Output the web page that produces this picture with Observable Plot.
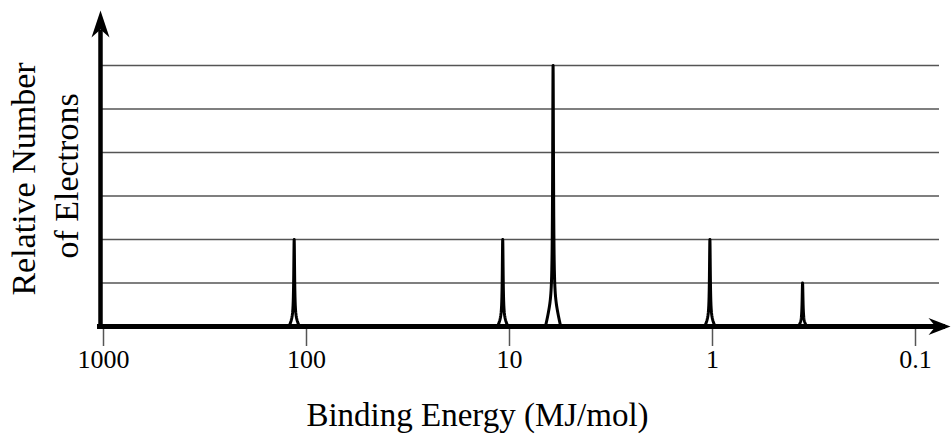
<!DOCTYPE html>
<html>
<head>
<meta charset="utf-8">
<script src="https://cdn.jsdelivr.net/npm/d3@7"></script>
<script src="https://cdn.jsdelivr.net/npm/@observablehq/plot@0.6"></script>
<style>
  html, body { margin: 0; padding: 0; background: #fff; }
</style>
</head>
<body>
<div id="chart"></div>
<script>
// Data
const peakEnergies = [115, 10.8, 6.1, 1.03, 0.36];   // MJ/mol
const peakHeights  = [2, 2, 6, 2, 1];                 // relative number of electrons
const tickValues   = [1000, 100, 10, 1, 0.1];
const tickLabels   = ["1000", "100", "10", "1", "0.1"];
const gridValues   = [1, 2, 3, 4, 5, 6];
const xLabel = "Binding Energy (MJ/mol)";
const yLabelLines = ["Relative Number", "of Electrons"];

// Peak glyph: a narrow spike with a flared open foot drawn around each peak (shape only)
const pxPerDecade = 203.08;
const gammaPx = 0.5;
const profile = [];
peakEnergies.forEach((e, k) => {
  const h = peakHeights[k];
  const foot = 3.5 + 0.65 * h;
  const N = 50;
  for (let i = -N; i <= N; i++) {
    const t = i / N;
    const dpx = Math.sign(t) * 14 * t * t;
    const lor = gammaPx * gammaPx / (gammaPx * gammaPx + dpx * dpx);
    const tri = Math.max(0, 1 - Math.abs(dpx) / foot);
    profile.push({
      peak: k,
      x: e * Math.pow(10, dpx / pxPerDecade),
      y: h * (0.88 * lor + 0.12 * tri)
    });
  }
});

const arrowUp = {
  draw(ctx) {
    ctx.moveTo(0, 0);
    ctx.lineTo(9, 27);
    ctx.lineTo(0, 19);
    ctx.lineTo(-9, 27);
    ctx.closePath();
  }
};
const arrowUpX = {
  draw(ctx) {
    ctx.moveTo(0, 0);
    ctx.lineTo(8.5, 22);
    ctx.lineTo(0, 15);
    ctx.lineTo(-8.5, 22);
    ctx.closePath();
  }
};

const serif = "'Liberation Serif', 'Times New Roman', serif";

const chart = Plot.plot({
  width: 951,
  height: 442,
  marginLeft: 103,
  marginRight: 36,
  marginTop: 65,
  marginBottom: 116,
  style: { fontFamily: serif, fontSize: "26px", color: "#000", background: "#fff" },
  x: { type: "log", domain: [1000, 0.1], axis: null },
  y: { domain: [0, 6], axis: null },
  marks: [
    Plot.ruleY(gridValues, { stroke: "#555", strokeWidth: 1.5, insetLeft: -3, insetRight: -24 }),
    Plot.axisX({
      ticks: tickValues,
      tickFormat: (d) => tickLabels[tickValues.indexOf(d)],
      tickSize: 20,
      tickPadding: 3,
      stroke: "#555",
      strokeWidth: 1.5,
      fill: "#000",
      fontSize: 26,
      fontFamily: serif,
      label: null
    }),
    Plot.line(profile, { x: "x", y: "y", z: "peak", stroke: "#000", strokeWidth: 3, strokeLinejoin: "round", curve: "linear" }),
    Plot.ruleY([0], { stroke: "#000", strokeWidth: 5, insetLeft: -6, insetRight: -30 }),
    Plot.ruleX([1000], { stroke: "#000", strokeWidth: 4.5, dx: -3, insetTop: -35, insetBottom: -2.5 }),
    Plot.dot([1000], { x: (d) => d, frameAnchor: "top", dx: -3, dy: -55, symbol: arrowUp, fill: "#000", stroke: "none" }),
    Plot.dot([0.1], { x: (d) => d, frameAnchor: "bottom", dx: 35, rotate: 90, symbol: arrowUpX, fill: "#000", stroke: "none" }),
    Plot.text([xLabel], { frameAnchor: "bottom", textAnchor: "middle", lineAnchor: "middle", dx: -32, dy: 89, fontSize: 33, fontFamily: serif, fill: "#000" }),
    Plot.text([yLabelLines[0]], { frameAnchor: "left", rotate: -90, textAnchor: "middle", lineAnchor: "middle", dx: -79, dy: -17, fontSize: 34, fontFamily: serif, fill: "#000" }),
    Plot.text([yLabelLines[1]], { frameAnchor: "left", rotate: -90, textAnchor: "middle", lineAnchor: "middle", dx: -36, dy: -20, fontSize: 34, fontFamily: serif, fill: "#000" })
  ]
});
document.getElementById("chart").appendChild(chart);
</script>
</body>
</html>
